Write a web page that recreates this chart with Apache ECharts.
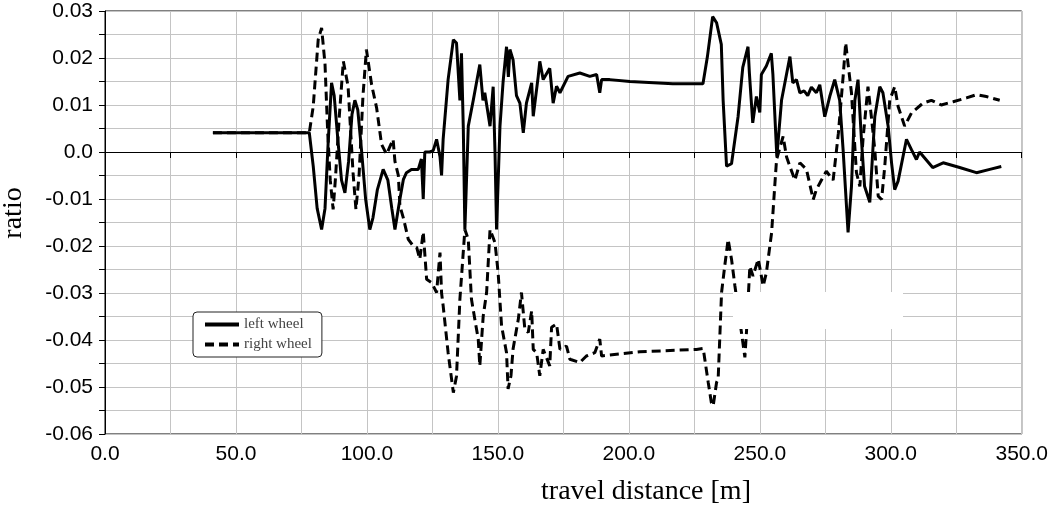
<!DOCTYPE html>
<html>
<head>
<meta charset="utf-8">
<script src="https://cdn.jsdelivr.net/npm/echarts@6/dist/echarts.min.js"></script>
<style>
  html, body { margin: 0; padding: 0; background: #fff; }
  #chart { width: 1051px; height: 508px; }
</style>
</head>
<body>
<div id="chart"></div>
<script>
// travel distance [m] and ratio
var leftDist = [41.2, 78.0, 79.5, 81.0, 82.7, 84.0, 85.2, 86.5, 87.5, 89.0, 90.3, 91.6, 93.0, 94.3, 95.4, 96.5, 98.0, 99.5,
  101.1, 102.3, 104.0, 106.2, 108.0, 109.5, 110.7, 112.6, 113.9, 115.1, 117.0, 119.6, 120.8, 121.5, 122.1, 124.0, 125.3,
  126.6, 127.9, 128.5, 129.1, 131.0, 133.0, 134.2, 135.5, 136.1, 136.8, 137.4, 138.7, 140.6, 143.1, 144.3, 145.0, 147.0,
  148.2, 148.9, 149.5, 150.8, 152.0, 153.3, 154.0, 154.6, 155.8, 157.1, 158.4, 159.7, 160.9, 162.9, 163.5, 165.4, 166.0,
  167.3, 169.8, 171.1, 172.4, 173.7, 176.8, 181.3, 185.1, 187.7, 188.9, 189.6, 192.7, 200.4, 216.8, 228.3, 230.0, 232.0,
  233.5, 235.3, 236.0, 237.3, 239.2, 241.7, 243.5, 245.5, 246.0, 247.3, 248.7, 250.0, 250.6, 252.5, 254.4, 255.0, 256.5,
  258.3, 261.5, 262.6, 264.0, 265.3, 266.9, 268.3, 269.7, 271.6, 272.9, 274.8, 276.7, 278.6, 280.5, 281.8, 283.7, 285.0,
  286.3, 287.5, 288.8, 290.0, 292.0, 293.9, 295.8, 297.0, 299.0, 300.3, 301.5, 302.8, 306.0, 307.9, 309.8, 311.0, 316.0,
  320.0, 326.3, 332.7, 337.8, 342.2];
var leftRatio = [0.0041, 0.0041, -0.003, -0.012, -0.0165, -0.012, 0.002, 0.0147, 0.012, 0.002, -0.006, -0.0087, -0.002, 0.008, 0.011, 0.009, 0.0, -0.010,
  -0.0165, -0.014, -0.008, -0.0037, -0.006, -0.012, -0.0165, -0.010, -0.0059, -0.0044, -0.0037, -0.0037, -0.0015, -0.010, 0.0, 0.0, 0.0003,
  0.0027, -0.001, -0.005, 0.0027, 0.0154, 0.0239, 0.0232, 0.011, 0.021, 0.005, -0.0165, 0.0055, 0.011, 0.0186, 0.011, 0.0126, 0.0055,
  0.0139, 0.0, -0.0165, 0.0055, 0.015, 0.0224, 0.016, 0.0218, 0.0196, 0.012, 0.0104, 0.0041, 0.0104, 0.0147, 0.0076, 0.0161, 0.0193,
  0.0154, 0.0178, 0.0104, 0.014, 0.0126, 0.0161, 0.0168, 0.0161, 0.0165, 0.0126, 0.0154, 0.0154, 0.015, 0.0145, 0.0145, 0.0203, 0.0288,
  0.0275, 0.0229, 0.011, -0.003, -0.0025, 0.0075, 0.018, 0.0224, 0.017, 0.0062, 0.0118, 0.0084, 0.0165, 0.0183, 0.021, 0.0165, -0.001,
  0.011, 0.0203, 0.0147, 0.0154, 0.0126, 0.013, 0.012, 0.0138, 0.0126, 0.0143, 0.0075, 0.0118, 0.0154, 0.011, 0.0005, -0.0171, -0.0073,
  0.011, 0.0154, 0.0027, -0.0073, -0.0107, 0.0075, 0.0139, 0.0126, 0.0055, -0.0023, -0.008, -0.0062, 0.0027, 0.0005, -0.0016, 0.0, -0.0033,
  -0.0023, -0.0033, -0.0044, -0.0037, -0.0031];

var rightDist = [41.2, 78.0, 79.5, 81.4, 82.7, 84.0, 85.0, 86.0, 87.1, 88.0, 89.5, 91.0, 92.8, 94.7, 95.8, 97.0, 98.5, 99.8,
  101.8, 103.7, 105.6, 107.5, 110.0, 110.7, 112.0, 112.6, 113.9, 115.8, 117.7, 119.0, 120.2, 121.5, 122.8, 124.7, 126.6,
  127.9, 128.5, 129.1, 131.0, 133.0, 134.2, 135.5, 137.4, 138.7, 139.9, 141.2, 142.5, 143.1, 144.4, 145.7, 147.0, 148.9,
  150.1, 151.4, 153.3, 153.9, 155.0, 155.8, 157.8, 159.0, 160.3, 161.6, 162.9, 163.5, 164.8, 166.0, 167.3, 169.8, 170.5,
  172.4, 173.7, 176.2, 177.5, 181.3, 183.8, 187.0, 188.9, 189.6, 192.7, 204.2, 225.8, 228.4, 229.0, 230.3, 231.5, 232.2,
  233.5, 234.1, 235.4, 236.6, 237.9, 239.2, 240.5, 243.0, 244.3, 244.9, 246.2, 247.4, 249.4, 251.3, 252.5, 254.5, 255.7,
  256.4, 258.9, 260.2, 261.5, 263.4, 265.3, 267.8, 270.4, 271.6, 273.5, 275.4, 278.0, 280.0, 281.8, 282.8, 283.7, 285.0,
  286.9, 288.2, 289.4, 291.3, 292.6, 293.9, 295.2, 296.5, 297.7, 299.6, 301.5, 302.8, 305.3, 307.9, 312.3, 315.5, 319.3,
  323.8, 328.9, 332.7, 336.5, 341.6];
var rightRatio = [0.0041, 0.0041, 0.0097, 0.0239, 0.0264, 0.0187, 0.0045, -0.006, -0.0122, -0.0055, 0.008, 0.0193, 0.014, -0.0044, -0.0122, -0.005, 0.012, 0.0218,
  0.0143, 0.0094, 0.0016, -0.0005, 0.0027, -0.002, -0.005, -0.0115, -0.014, -0.0186, -0.020, -0.0203, -0.0228, -0.017, -0.0271, -0.0278, -0.0299,
  -0.0214, -0.030, -0.0327, -0.0427, -0.0512, -0.0477, -0.0313, -0.0165, -0.0186, -0.0313, -0.0356, -0.0398, -0.0455, -0.0349, -0.0299, -0.0165, -0.0193,
  -0.0257, -0.037, -0.0427, -0.0504, -0.0476, -0.0419, -0.0356, -0.0299, -0.0377, -0.0384, -0.0338, -0.042, -0.0427, -0.0476, -0.042, -0.0455, -0.0373,
  -0.0366, -0.042, -0.0413, -0.0441, -0.0448, -0.0434, -0.0427, -0.0398, -0.0434, -0.0432, -0.0425, -0.042, -0.0418, -0.0441, -0.049, -0.0533, -0.054,
  -0.049, -0.0483, -0.0299, -0.0243, -0.0186, -0.0228, -0.0285, -0.0384, -0.0437, -0.0384, -0.0243, -0.0264, -0.0228, -0.0285, -0.0257, -0.0172, -0.0073,
  -0.0016, 0.0033, -0.001, -0.0031, -0.006, -0.0023, -0.0037, -0.0101, -0.008, -0.006, -0.0041, -0.006, 0.004, 0.016, 0.0232, 0.0187, 0.0126,
  -0.0044, -0.0073, 0.0027, 0.0139, 0.0075, 0.0005, -0.0094, -0.0101, -0.0031, 0.011, 0.0139, 0.0097, 0.0055, 0.0083, 0.0104, 0.011, 0.01,
  0.0107, 0.0115, 0.0122, 0.0118, 0.011];

var seriesNames = ['left wheel', 'right wheel'];

function zip(xs, ys) {
  return xs.map(function (x, i) { return [x, ys[i]]; });
}

var myChart = echarts.init(document.getElementById('chart'));

var option = {
  animation: false,
  backgroundColor: '#fff',
  grid: {
    left: 105, right: 29, top: 11, bottom: 74,
    show: true,
    borderColor: '#000',
    borderWidth: 1
  },
  legend: {
    data: seriesNames,
    orient: 'vertical',
    left: 193,
    top: 312,
    itemWidth: 34,
    itemHeight: 14,
    itemGap: 5,
    padding: [5, 10, 5, 10],
    borderColor: '#222',
    borderWidth: 1,
    borderRadius: 4,
    backgroundColor: '#fff',
    itemStyle: { opacity: 0 },   // no dot in the legend, only the line
    lineStyle: { width: 4 },
    textStyle: { fontFamily: 'Liberation Serif', fontSize: 15, color: '#444' }
  },
  xAxis: {
    type: 'value',
    min: 0,
    max: 350,
    interval: 25,
    axisLine: { lineStyle: { color: '#000', width: 1 } },
    axisTick: { show: true, length: 6, lineStyle: { color: '#000' } },
    axisLabel: {
      margin: 10,
      color: '#000',
      fontFamily: 'Liberation Sans',
      fontSize: 21,
      formatter: function (v) { return v % 50 === 0 ? v.toFixed(1) : ''; }
    },
    splitLine: { show: true, lineStyle: { color: '#c4c4c4', width: 1 } }
  },
  yAxis: {
    type: 'value',
    min: -0.06,
    max: 0.03,
    interval: 0.005,
    axisLine: { show: true, lineStyle: { color: '#000', width: 1 } },
    axisTick: { show: true, length: 6, lineStyle: { color: '#000' } },
    axisLabel: {
      margin: 12,
      color: '#000',
      fontFamily: 'Liberation Sans',
      fontSize: 21,
      formatter: function (v) {
        var m = Math.round(v * 1000);
        if (m % 10 !== 0) return '';
        if (m === 0) return '0.0';
        return (m / 1000).toFixed(2);
      }
    },
    splitLine: { show: true, lineStyle: { color: '#c4c4c4', width: 1 } }
  },
  series: [
    {
      name: seriesNames[0],
      type: 'line',
      showSymbol: false,
      symbol: 'none',
      lineStyle: { color: '#000', width: 3 },
      itemStyle: { color: '#000' },
      data: zip(leftDist, leftRatio),
      markLine: {
        silent: true,
        symbol: 'none',
        label: { show: false },
        lineStyle: { color: '#000', width: 1, type: 'solid' },
        data: [{ yAxis: 0 }]
      }
    },
    {
      name: seriesNames[1],
      type: 'line',
      showSymbol: false,
      symbol: 'none',
      lineStyle: { color: '#000', width: 3, type: [9, 5] },
      itemStyle: { color: '#000' },
      data: zip(rightDist, rightRatio)
    }
  ],
  graphic: [
    // white patch in the original picture
    { type: 'rect', z: 100, shape: { x: 733, y: 292, width: 170, height: 37 }, style: { fill: '#fff' } },
    {
      type: 'text', z: 100, x: 14, y: 213, rotation: Math.PI / 2,
      style: { text: 'ratio', align: 'center', verticalAlign: 'middle', font: '28px "Liberation Serif"', fill: '#000' }
    },
    {
      type: 'text', z: 100, x: 646, y: 492,
      style: { text: 'travel distance [m]', align: 'center', verticalAlign: 'middle', font: '28px "Liberation Serif"', fill: '#000' }
    }
  ]
};

myChart.setOption(option);
</script>
</body>
</html>
